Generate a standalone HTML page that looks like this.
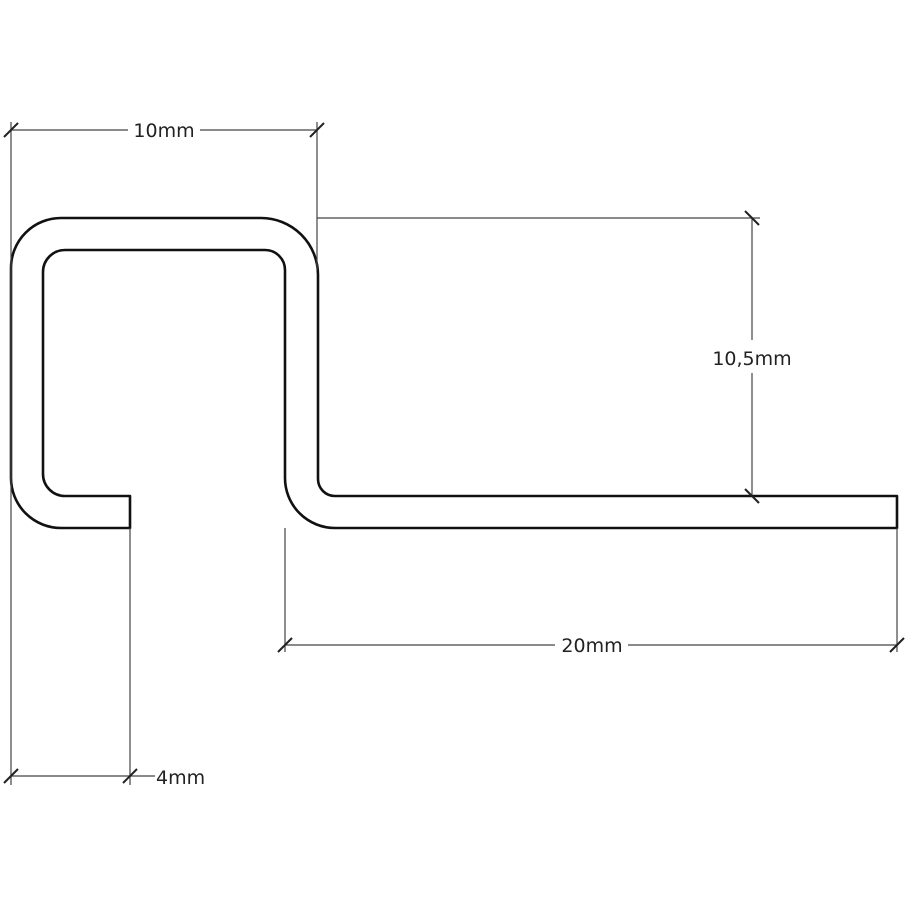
<!DOCTYPE html>
<html><head><meta charset="utf-8"><style>
html,body{margin:0;padding:0;background:#fff;}
svg{display:block;}
text{font-family:"DejaVu Sans","Liberation Sans",sans-serif;font-size:19px;fill:#222;}
</style></head><body>
<svg width="909" height="909" viewBox="0 0 909 909" xmlns="http://www.w3.org/2000/svg">
<rect width="909" height="909" fill="#fff"/>
<!-- profile -->
<path d="M130,496 L65,496 A22,22 0 0 1 43,474 L43,272 A22,22 0 0 1 65,250 L265,250 A20,20 0 0 1 285,270 L285,478 A50,50 0 0 0 335,528 L897,528 L897,496 L335,496 A17,17 0 0 1 318,479 L318,275 A57,57 0 0 0 261,218 L61,218 A50,50 0 0 0 11,268 L11,478 A50,50 0 0 0 61,528 L130,528 Z" fill="none" stroke="#111" stroke-width="2.6" stroke-linejoin="round"/>
<g stroke="#444" stroke-width="1.2" fill="none">
<!-- extension lines -->
<line x1="11" y1="122" x2="11" y2="785"/>
<line x1="317" y1="122" x2="317" y2="270"/>
<line x1="130" y1="528" x2="130" y2="785"/>
<line x1="285" y1="528" x2="285" y2="652"/>
<line x1="897" y1="528" x2="897" y2="652"/>
<line x1="317" y1="218" x2="760" y2="218"/>
<!-- dimension lines -->
<line x1="11" y1="130" x2="128" y2="130"/>
<line x1="200" y1="130" x2="317" y2="130"/>
<line x1="752" y1="218" x2="752" y2="340"/>
<line x1="752" y1="373" x2="752" y2="496"/>
<line x1="285" y1="645" x2="555" y2="645"/>
<line x1="628" y1="645" x2="897" y2="645"/>
<line x1="11" y1="776" x2="155" y2="776"/>
</g>
<g stroke="#222" stroke-width="2">
<line x1="4" y1="137" x2="18" y2="123"/>
<line x1="310" y1="137" x2="324" y2="123"/>
<line x1="745" y1="211" x2="759" y2="225"/>
<line x1="745" y1="489" x2="759" y2="503"/>
<line x1="278" y1="652" x2="292" y2="638"/>
<line x1="890" y1="652" x2="904" y2="638"/>
<line x1="4" y1="783" x2="18" y2="769"/>
<line x1="123" y1="783" x2="137" y2="769"/>
</g>
<text x="164" y="137" text-anchor="middle">10mm</text>
<text x="752" y="365" text-anchor="middle">10,5mm</text>
<text x="592" y="652" text-anchor="middle">20mm</text>
<text x="156" y="784">4mm</text>
</svg>
</body></html>
